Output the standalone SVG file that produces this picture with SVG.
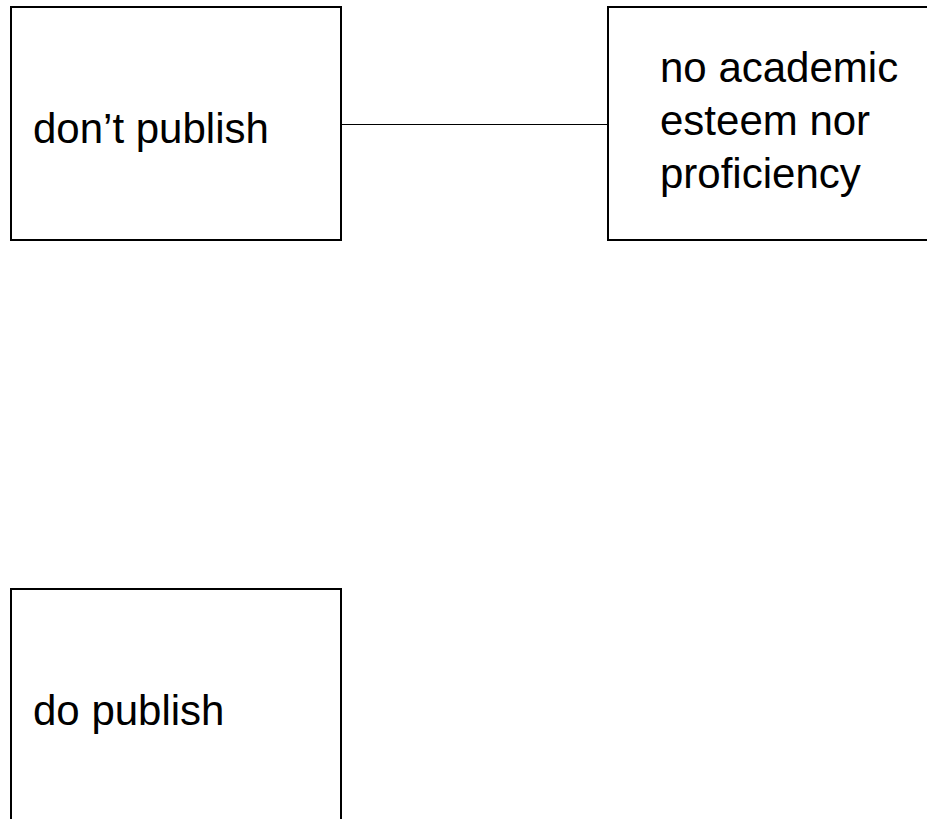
<svg xmlns="http://www.w3.org/2000/svg" width="927" height="819" viewBox="0 0 927 819">
<style>
.box{fill:#fff;stroke:#000;stroke-width:2}
.lbl{font-family:"Liberation Sans",Arial,sans-serif;font-size:42px;fill:#000}
.conn{stroke:#000;stroke-width:1;fill:none}
</style>
<rect width="927" height="819" fill="#fff"/>
<g id="connectors">
<line class="conn" x1="342" y1="124.5" x2="607" y2="124.5"/>
</g>
<g id="node-dont-publish">
<rect class="box" x="11" y="7" width="330" height="233"/>
<text class="lbl" x="33" y="143">don’t publish</text>
</g>
<g id="node-no-academic">
<rect class="box" x="608" y="7" width="340" height="233"/>
<text class="lbl" x="660" y="82">no academic</text>
<text class="lbl" x="660" y="135">esteem nor</text>
<text class="lbl" x="660" y="188">proficiency</text>
</g>
<g id="node-do-publish">
<rect class="box" x="11" y="589" width="330" height="250"/>
<text class="lbl" x="33" y="725">do publish</text>
</g>
</svg>
